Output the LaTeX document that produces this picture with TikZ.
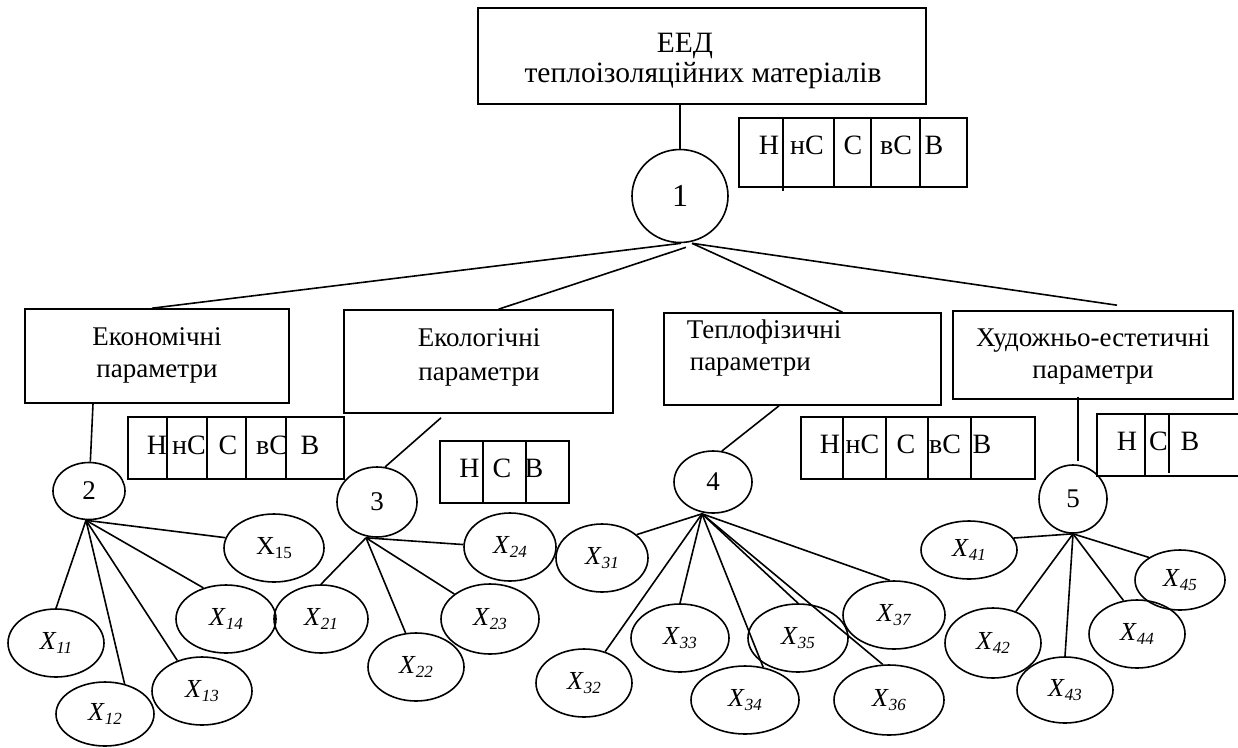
\documentclass[tikz,border=0pt]{standalone}
\usepackage{fontspec}
\setmainfont{Liberation Serif}
\usetikzlibrary{shapes.geometric}
\newcommand\Xit[1]{\textit{X}\raisebox{-4pt}{\fontsize{17}{17}\selectfont\textit{#1}}}
\newcommand\Xup[1]{X\raisebox{-4pt}{\fontsize{17}{17}\selectfont #1}}
\begin{document}
\begin{tikzpicture}[x=1pt,y=-1pt,line width=1.6pt,
  every node/.style={font=\fontsize{27}{32}\selectfont},
  frame/.style={draw,rectangle,inner sep=0pt},
  oval/.style={draw,ellipse,inner sep=0pt,font=\fontsize{26}{31}\selectfont},
  num/.style={oval,font=\fontsize{27}{31}\selectfont},
  txt/.style={inner sep=0pt,align=center},
  mark label/.style={inner sep=0pt,font=\fontsize{28}{31}\selectfont},
  wire/.style={line width=1.6pt}]
\useasboundingbox (0,0) rectangle (1238,747);

% ---- boxes ----
\node[frame,minimum width=448pt,minimum height=96pt] (top) at (702,56) {};
\node[txt,font=\fontsize{29.5}{30}\selectfont] (topt) at (703,61) {\hspace*{-36pt}ЕЕД\\теплоізоляційних матеріалів};

\node[frame,minimum width=264pt,minimum height=94pt] (eco) at (157,356) {};
\node[txt] (ecot) at (157,355) {Економічні\\параметри};
\node[frame,minimum width=269pt,minimum height=103pt] (ecol) at (478.5,361.5) {};
\node[txt,font=\fontsize{27}{34}\selectfont] (ecolt) at (479,357) {Екологічні\\параметри};
\node[frame,minimum width=277pt,minimum height=92pt] (tep) at (802.5,359) {};
\node[txt,align=left,anchor=west] (tept) at (686,348) {Теплофізичні\\\hspace*{3pt}параметри};
\node[frame,minimum width=280pt,minimum height=88pt] (hud) at (1093,355) {};
\node[txt] (hudt) at (1093,356) {Художньо-естетичні\\параметри};

% ---- circles ----
\node[num,minimum width=96pt,minimum height=93pt,font=\fontsize{32}{32}\selectfont] (c1) at (680,196) {1};
\node[num,minimum width=72pt,minimum height=57pt] (c2) at (89,491) {2};
\node[num,minimum width=80pt,minimum height=70pt] (c3) at (377,502) {3};
\node[num,minimum width=78pt,minimum height=62pt] (c4) at (713,482) {4};
\node[num,minimum width=68pt,minimum height=68pt] (c5) at (1073,499) {5};

% ---- scale boxes ----
\node[frame,minimum width=228pt,minimum height=69pt] (s1) at (853,152.5) {};
\draw (783,118) -- (783,191);
\draw (834,118) -- (834,187);
\draw (871,118) -- (871,187);
\draw (920,118) -- (920,187);
\node[mark label] (s1a) at (769,145) {Н};
\node[mark label] (s1b) at (807,145) {нС};
\node[mark label] (s1c) at (853,145) {С};
\node[mark label] (s1d) at (896,145) {вС};
\node[mark label] (s1e) at (934,145) {В};

\node[frame,minimum width=216pt,minimum height=62pt] (s2) at (236,448) {};
\draw (167,417) -- (167,479);
\draw (207,417) -- (207,479);
\draw (246,417) -- (246,479);
\draw (286,417) -- (286,479);
\node[mark label] (s2a) at (157,445) {Н};
\node[mark label] (s2b) at (189,445) {нС};
\node[mark label] (s2c) at (228,445) {С};
\node[mark label] (s2d) at (272,445) {вС};
\node[mark label] (s2e) at (310,445) {В};

\node[frame,minimum width=129pt,minimum height=62pt] (s3) at (504.5,472) {};
\draw (483,441) -- (483,503);
\draw (526,441) -- (526,503);
\node[mark label] (s3a) at (469.5,468) {Н};
\node[mark label] (s3b) at (502,468) {С};
\node[mark label] (s3c) at (534,468) {В};

\node[frame,minimum width=234pt,minimum height=62pt] (s4) at (918,448) {};
\draw (843,417) -- (843,479);
\draw (886,417) -- (886,479);
\draw (928,417) -- (928,479);
\draw (971,417) -- (971,479);
\node[mark label] (s4a) at (830,444) {Н};
\node[mark label] (s4b) at (862.5,444) {нС};
\node[mark label] (s4c) at (906,444) {С};
\node[mark label] (s4d) at (945,444) {вС};
\node[mark label] (s4e) at (982,444) {В};

\draw (1245,414) -- (1097,414) -- (1097,476) -- (1245,476);
\draw (1145,414) -- (1145,476);
\draw (1169,414) -- (1169,473);
\node[mark label] (s5a) at (1127,441) {Н};
\node[mark label] (s5b) at (1158.5,441) {С};
\node[mark label] (s5c) at (1190,441) {В};

% ---- leaves ----
\node[oval,minimum width=96pt,minimum height=68pt] (x11) at (56,643) {\Xit{11}};
\node[oval,minimum width=98pt,minimum height=64pt] (x12) at (105,714) {\Xit{12}};
\node[oval,minimum width=100pt,minimum height=68pt] (x13) at (202,691) {\Xit{13}};
\node[oval,minimum width=100pt,minimum height=68pt] (x14) at (226,619) {\Xit{14}};
\node[oval,minimum width=100pt,minimum height=68pt] (x15) at (274,548) {\Xup{15}};
\node[oval,minimum width=94pt,minimum height=68pt] (x21) at (321,619) {\Xit{21}};
\node[oval,minimum width=96pt,minimum height=68pt] (x22) at (416,667) {\Xit{22}};
\node[oval,minimum width=98pt,minimum height=70pt] (x23) at (490,619) {\Xit{23}};
\node[oval,minimum width=92pt,minimum height=68pt] (x24) at (510,547) {\Xit{24}};
\node[oval,minimum width=92pt,minimum height=68pt] (x31) at (602,558) {\Xit{31}};
\node[oval,minimum width=96pt,minimum height=68pt] (x32) at (584,683) {\Xit{32}};
\node[oval,minimum width=98pt,minimum height=68pt] (x33) at (680,638) {\Xit{33}};
\node[oval,minimum width=108pt,minimum height=68pt] (x34) at (745,700) {\Xit{34}};
\node[oval,minimum width=100pt,minimum height=68pt] (x35) at (798,638) {\Xit{35}};
\node[oval,minimum width=110pt,minimum height=70pt] (x36) at (889,700) {\Xit{36}};
\node[oval,minimum width=102pt,minimum height=68pt] (x37) at (894,615) {\Xit{37}};
\node[oval,minimum width=96pt,minimum height=58pt] (x41) at (969,550) {\Xit{41}};
\node[oval,minimum width=96pt,minimum height=70pt] (x42) at (993,643) {\Xit{42}};
\node[oval,minimum width=96pt,minimum height=66pt] (x43) at (1065,690) {\Xit{43}};
\node[oval,minimum width=96pt,minimum height=68pt] (x44) at (1137,634) {\Xit{44}};
\node[oval,minimum width=90pt,minimum height=60pt] (x45) at (1180,580) {\Xit{45}};

% ---- connectors ----
\draw[wire] (c1.north |- top.south) -- (c1.north);
\draw[wire] ([xshift=1pt]c1.south) -- ([xshift=-5pt]eco.north);
\draw[wire] ([xshift=6pt,yshift=-4pt]c1.south) -- ([xshift=20pt]ecol.north);
\draw[wire] ([xshift=12pt]c1.south) -- ([xshift=40pt]tep.north);
\draw[wire] ([xshift=12pt]c1.south) -- ([xshift=24pt,yshift=5pt]hud.north);

\draw[wire] ([xshift=-64pt]eco.south) -- (c2);
\draw[wire] ([xshift=-37.5pt,yshift=-4pt]ecol.south) -- (c3.77);
\draw[wire] ([xshift=-23.5pt]tep.south) -- (c4.74);
\draw[wire] ([xshift=-15pt,yshift=3pt]hud.south) -- ([xshift=-15pt,yshift=3pt]hud.south |- c5.north);

\draw[wire] ([xshift=-3pt]c2.south) -- (x11.north);
\draw[wire] ([xshift=-3pt]c2.south) -- (x12.57);
\draw[wire] ([xshift=-3pt]c2.south) -- (x13.129);
\draw[wire] ([xshift=-3pt]c2.south) -- (x14.126);
\draw[wire] ([xshift=-3pt]c2.south) -- (x15.168);

\draw[wire] ([xshift=-11pt]c3.south) -- (x21.north);
\draw[wire] ([xshift=-11pt]c3.south) -- (x22.107);
\draw[wire] ([xshift=-11pt]c3.south) -- (x23.145);
\draw[wire] ([xshift=-11pt]c3.south) -- (x24.177);

\draw[wire] ([xshift=-11pt]c4.south) -- (x31.34);
\draw[wire] ([xshift=-11pt]c4.south) -- (x32.56);
\draw[wire] ([xshift=-11pt]c4.south) -- (x33.north);
\draw[wire] ([xshift=-11pt]c4.south) -- (x34.61);
\draw[wire] ([xshift=-11pt]c4.south) -- (x35.north);
\draw[wire] ([xshift=-11pt]c4.south) -- (x36.100);
\draw[wire] ([xshift=-11pt]c4.south) -- (x37.97);

\draw[wire] (c5.south) -- (x41.15);
\draw[wire] (c5.south) -- (x42.54);
\draw[wire] (c5.south) -- (x43.north);
\draw[wire] (c5.south) -- (x44.112);
\draw[wire] (c5.south) -- (x45.144);
\end{tikzpicture}
\end{document}
